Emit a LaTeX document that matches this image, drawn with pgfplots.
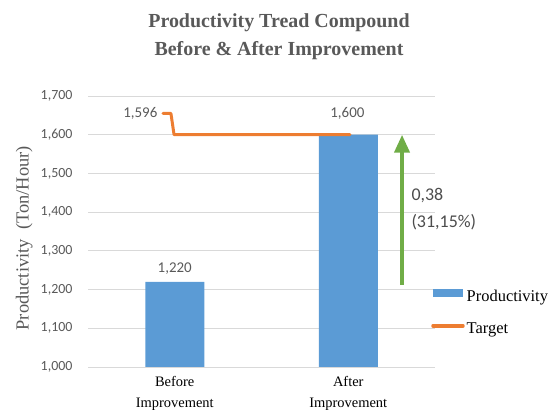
\documentclass[border=0pt]{standalone}
\usepackage{fontspec}
\setmainfont{Liberation Serif}
\newfontfamily\calibri{Carlito}
\usepackage{pgfplots}
\pgfplotsset{compat=1.18}
\usetikzlibrary{arrows.meta}
\definecolor{barblue}{HTML}{5B9BD5}
\definecolor{tgtorange}{HTML}{ED7D31}
\definecolor{arrgreen}{HTML}{70AD47}
\definecolor{gridgrey}{HTML}{D9D9D9}
\definecolor{txtgrey}{HTML}{595959}
\begin{document}
\begin{tikzpicture}
\useasboundingbox (0,0) rectangle (555bp,410bp);
\node[font=\bfseries\fontsize{20}{28}\selectfont, text=txtgrey, align=center] at (279bp,373bp) {Productivity Tread Compound\\Before \& After Improvement};
\begin{axis}[
  at={(88bp,43bp)}, anchor=south west,
  scale only axis, width=347bp, height=271bp,
  xmin=-0.5, xmax=1.5, ymin=1000, ymax=1700,
  xtick={0,1}, xticklabels={Before\\Improvement, After\\Improvement},
  xticklabel style={align=center, font=\fontsize{14.5}{21}\selectfont, text=black, yshift=-6bp},
  ytick={1000,1100,...,1700},
  yticklabel style={font=\calibri\fontsize{14}{14}\selectfont, text=txtgrey, xshift=-12bp},
  /pgf/number format/assume math mode=true,
  /pgf/number format/1000 sep={,},
  ymajorgrids, grid style={gridgrey, line width=0.8pt},
  major tick length=0pt,
  axis x line*=bottom, axis y line*=left,
  x axis line style={gridgrey, line width=0.8pt, -},
  y axis line style={draw=none},
  ylabel={Productivity\ \ (Ton/Hour)},
  ylabel style={font=\fontsize{18.5}{18.5}\selectfont, text=txtgrey, at={(rel axis cs:-0.184,0.475)}, anchor=center},
  legend style={at={(0.98,0.30)}, anchor=north west, draw=none, fill=none,
    font=\fontsize{16.5}{16.5}\selectfont, row sep=16bp},
  legend cell align=left,
  clip=false,
]
\addplot[ybar, bar width=59bp, fill=barblue, draw=none,
  legend image code/.code={\fill[barblue] (0bp,-1bp) rectangle (30bp,7bp);},
  nodes near coords, point meta=explicit symbolic,
  every node near coord/.append style={font=\calibri\fontsize{15}{15}\selectfont, text=txtgrey, yshift=4bp}]
  coordinates {(0,1220) [{1,220}] (1,1600) [{}]};
\addlegendentry{Productivity}
\addplot[tgtorange, line width=3pt, line join=round, line cap=round,
  legend image code/.code={\draw[tgtorange, line width=3.5pt] (0bp,3bp) -- (30bp,3bp);}]
  coordinates {(-0.068,1655) (-0.022,1655) (-0.004,1600) (1.01,1600)};
\addlegendentry{Target}
\addplot[arrgreen, line width=4pt, -{Triangle[width=15bp,length=18bp]}, forget plot]
  coordinates {(1.31,1212) (1.31,1600)};
\node[anchor=east, font=\calibri\fontsize{15}{15}\selectfont, text=txtgrey] at (axis cs:-0.08,1655) {1,596};
\node[font=\calibri\fontsize{15}{15}\selectfont, text=txtgrey] at (axis cs:0.995,1655) {1,600};
\node[anchor=west, align=left, font=\calibri\fontsize{18}{27}\selectfont, text=txtgrey!85!black] at (axis cs:1.31,1408) {\hspace*{6bp}0,38\\\hspace*{6bp}(31,15\%)};
\end{axis}
\end{tikzpicture}
\end{document}
